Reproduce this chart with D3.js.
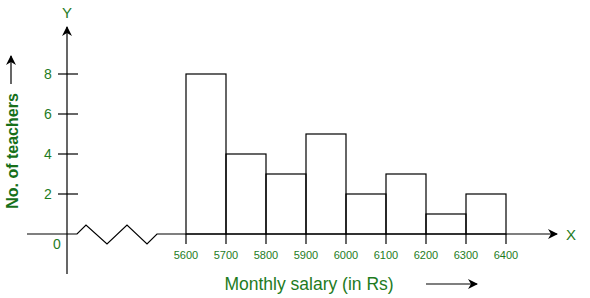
<!DOCTYPE html>
<html>
<head>
<meta charset="utf-8">
<script src="https://cdn.jsdelivr.net/npm/d3@7"></script>
<style>
  body { margin: 0; background: #fff; }
  svg text { font-family: "Liberation Sans", Arial, sans-serif; fill: #1e7b1e; }
</style>
</head>
<body>
<div id="chart"></div>
<script>
var salaryStart = [5600, 5700, 5800, 5900, 6000, 6100, 6200, 6300];
var teachers = [8, 4, 3, 5, 2, 3, 1, 2];
var xTicks = [5600, 5700, 5800, 5900, 6000, 6100, 6200, 6300, 6400];
var yTicks = [2, 4, 6, 8];

var w = 590, h = 298;
var originX = 67, originY = 234;

var svg = d3.select("#chart").append("svg")
    .attr("width", w)
    .attr("height", h);

var defs = svg.append("defs");
defs.append("marker")
    .attr("id", "arrow")
    .attr("viewBox", "0 0 10 10")
    .attr("refX", 9).attr("refY", 5)
    .attr("markerWidth", 10).attr("markerHeight", 10)
    .attr("markerUnits", "userSpaceOnUse")
    .attr("orient", "auto")
    .append("path")
    .attr("d", "M0,0 L10,5 L0,10 L3,5 z")
    .attr("fill", "#000");

// scales: 100 Rs = 40px, 1 teacher = 20px
var x = d3.scaleLinear().domain([5600, 6400]).range([186, 506]);
var y = d3.scaleLinear().domain([0, 8]).range([originY, 74]);

// bars
svg.selectAll("rect.bar")
    .data(teachers)
    .join("rect")
    .attr("class", "bar")
    .attr("x", (d, i) => x(salaryStart[i]))
    .attr("y", d => y(d))
    .attr("width", (d, i) => x(salaryStart[i] + 100) - x(salaryStart[i]))
    .attr("height", d => y(0) - y(d))
    .attr("fill", "none")
    .attr("stroke", "#000")
    .attr("stroke-width", 1.2);

// x axis with the kink
var kink = [[27, originY], [77, originY], [86, 225], [107, 244], [127, 225], [147, 244], [157, originY], [557, originY]];
svg.append("path")
    .attr("d", d3.line()(kink))
    .attr("fill", "none")
    .attr("stroke", "#000")
    .attr("stroke-width", 1.2)
    .attr("marker-end", "url(#arrow)");

// y axis
svg.append("line")
    .attr("x1", originX).attr("y1", 274)
    .attr("x2", originX).attr("y2", 27)
    .attr("stroke", "#000")
    .attr("stroke-width", 1.2)
    .attr("marker-end", "url(#arrow)");

// x ticks
svg.selectAll("line.xtick")
    .data(xTicks)
    .join("line")
    .attr("class", "xtick")
    .attr("x1", d => x(d)).attr("x2", d => x(d))
    .attr("y1", originY).attr("y2", originY + 10)
    .attr("stroke", "#000")
    .attr("stroke-width", 1.2);

svg.selectAll("text.xlab")
    .data(xTicks)
    .join("text")
    .attr("class", "xlab")
    .attr("x", d => x(d))
    .attr("y", 259)
    .attr("text-anchor", "middle")
    .attr("font-size", 11)
    .text(d => d);

// y ticks
svg.selectAll("line.ytick")
    .data(yTicks)
    .join("line")
    .attr("class", "ytick")
    .attr("x1", originX - 9).attr("x2", originX + 11)
    .attr("y1", d => y(d)).attr("y2", d => y(d))
    .attr("stroke", "#000")
    .attr("stroke-width", 1.2);

svg.selectAll("text.ylab")
    .data(yTicks)
    .join("text")
    .attr("class", "ylab")
    .attr("x", 48)
    .attr("y", d => y(d) + 5)
    .attr("text-anchor", "middle")
    .attr("font-size", 14)
    .text(d => d);

svg.append("text")
    .attr("x", 57).attr("y", 249)
    .attr("text-anchor", "middle")
    .attr("font-size", 14)
    .text("0");

// axis letters
svg.append("text")
    .attr("x", originX).attr("y", 18)
    .attr("text-anchor", "middle")
    .attr("font-size", 15)
    .text("Y");

svg.append("text")
    .attr("x", 571).attr("y", 240)
    .attr("text-anchor", "middle")
    .attr("font-size", 15)
    .text("X");

// axis titles
svg.append("text")
    .attr("transform", "translate(18,151) rotate(-90)")
    .attr("text-anchor", "middle")
    .attr("font-size", 16)
    .attr("font-weight", "bold")
    .style("fill", "#17701a")
    .text("No. of teachers");

svg.append("line")
    .attr("x1", 11).attr("y1", 84)
    .attr("x2", 11).attr("y2", 56)
    .attr("stroke", "#000")
    .attr("stroke-width", 1.2)
    .attr("marker-end", "url(#arrow)");

svg.append("text")
    .attr("x", 309).attr("y", 290)
    .attr("text-anchor", "middle")
    .attr("font-size", 17.5)
    .text("Monthly salary (in Rs)");

svg.append("line")
    .attr("x1", 426).attr("y1", 284)
    .attr("x2", 477).attr("y2", 284)
    .attr("stroke", "#000")
    .attr("stroke-width", 1.2)
    .attr("marker-end", "url(#arrow)");
</script>
</body>
</html>
